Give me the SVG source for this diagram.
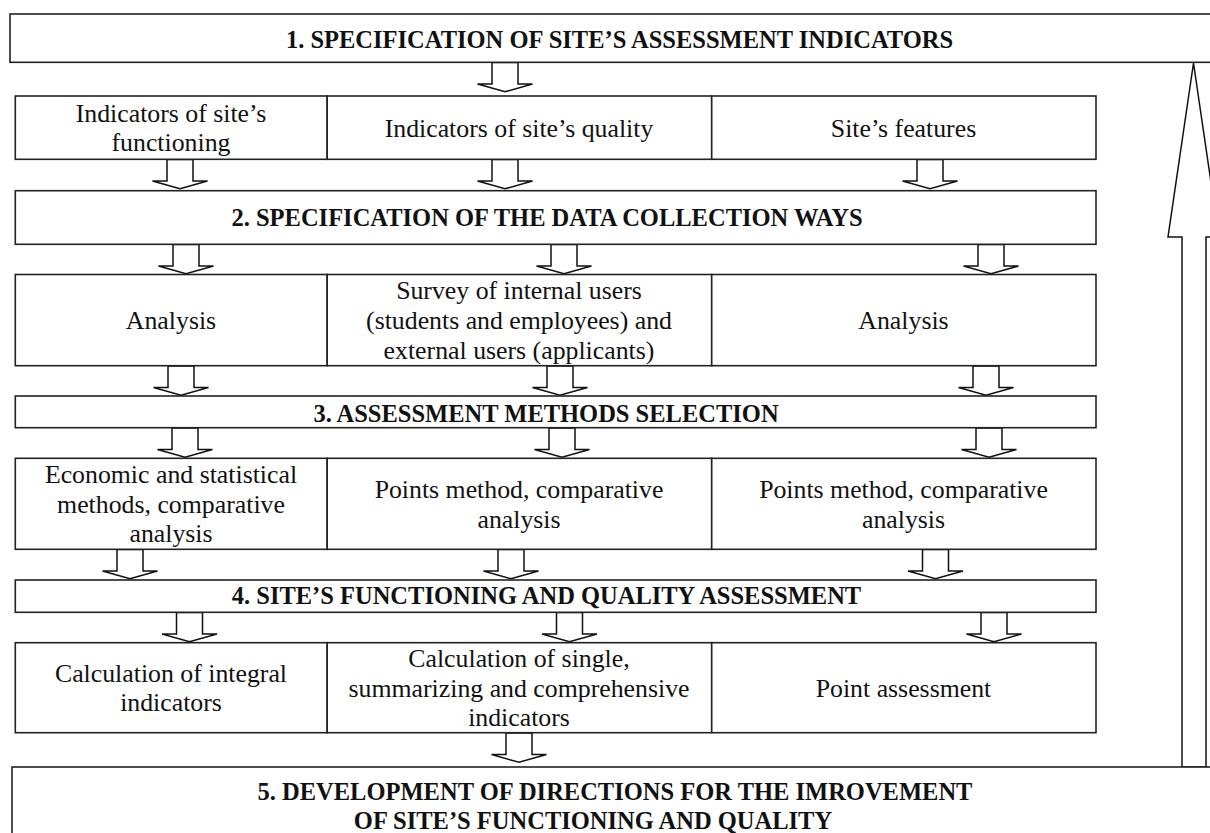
<svg xmlns="http://www.w3.org/2000/svg" xmlns:xlink="http://www.w3.org/1999/xlink" width="1210" height="833" viewBox="0 0 1210 833">
<style>
.box{fill:#fff;stroke:#222;stroke-width:1.6}
.t{font-family:"Liberation Serif","Times New Roman",serif;font-size:25.8px;fill:#111;text-anchor:middle}
.h{font-family:"Liberation Serif","Times New Roman",serif;font-size:24.5px;font-weight:bold;fill:#111;text-anchor:middle}
.arr{fill:#fff;stroke:#111;stroke-width:1.5;stroke-linejoin:miter}
</style>
<defs>
<polygon id="dn" class="arr" points="-13,0 13,0 13,21.5 27.5,21.5 0,29.3 -27.5,21.5 -13,21.5"/>
</defs>
<rect width="1210" height="833" fill="#fff"/>

<g id="connectors">
<use xlink:href="#dn" x="505" y="62.5"/>
<use xlink:href="#dn" x="180" y="159.5"/>
<use xlink:href="#dn" x="505" y="159.5"/>
<use xlink:href="#dn" x="930" y="159.5"/>
<use xlink:href="#dn" x="186" y="244.5"/>
<use xlink:href="#dn" x="564" y="244.5"/>
<use xlink:href="#dn" x="991" y="244.5"/>
<use xlink:href="#dn" x="181" y="366"/>
<use xlink:href="#dn" x="560" y="366"/>
<use xlink:href="#dn" x="986" y="366"/>
<use xlink:href="#dn" x="185" y="428"/>
<use xlink:href="#dn" x="562" y="428"/>
<use xlink:href="#dn" x="989" y="428"/>
<use xlink:href="#dn" x="130" y="549.5"/>
<use xlink:href="#dn" x="511" y="549.5"/>
<use xlink:href="#dn" x="935.5" y="549.5"/>
<use xlink:href="#dn" x="189.5" y="612.5"/>
<use xlink:href="#dn" x="569.5" y="612.5"/>
<use xlink:href="#dn" x="994" y="612.5"/>
<use xlink:href="#dn" x="519" y="733"/>
<polygon id="feedback" class="arr" points="1193.5,63 1219,237 1206,237 1206,767 1182,767 1182,237 1168,237"/>
</g>

<g id="step1"><rect class="box" x="10" y="14" width="1215" height="48.3"/>
<text class="h" x="619.5" y="48.3">1. SPECIFICATION OF SITE’S ASSESSMENT INDICATORS</text></g>

<g id="ind-functioning"><rect class="box" x="15.3" y="96" width="311.9" height="63.3"/>
<text class="t" x="171" y="121.7">Indicators of site’s</text><text class="t" x="171" y="151">functioning</text></g>
<g id="ind-quality"><rect class="box" x="327.2" y="96" width="384.5" height="63.3"/>
<text class="t" x="519" y="136.5">Indicators of site’s quality</text></g>
<g id="site-features"><rect class="box" x="711.7" y="96" width="384.3" height="63.3"/>
<text class="t" x="903.5" y="136.5">Site’s features</text></g>

<g id="step2"><rect class="box" x="15.3" y="190.7" width="1080.7" height="53.6"/>
<text class="h" x="547" y="226">2. SPECIFICATION OF THE DATA COLLECTION WAYS</text></g>

<g id="analysis1"><rect class="box" x="15.3" y="274.5" width="311.9" height="91.2"/>
<text class="t" x="171" y="329.3">Analysis</text></g>
<g id="survey"><rect class="box" x="327.2" y="274.5" width="384.5" height="91.2"/>
<text class="t" x="519" y="299.3">Survey of internal users</text>
<text class="t" x="519" y="329.3">(students and employees) and</text>
<text class="t" x="519" y="359.3">external users (applicants)</text></g>
<g id="analysis2"><rect class="box" x="711.7" y="274.5" width="384.3" height="91.2"/>
<text class="t" x="903.5" y="329.3">Analysis</text></g>

<g id="step3"><rect class="box" x="15.3" y="396" width="1080.7" height="31.7"/>
<text class="h" x="546" y="421.7">3. ASSESSMENT METHODS SELECTION</text></g>

<g id="econ"><rect class="box" x="15.3" y="458.3" width="311.9" height="91"/>
<text class="t" x="171" y="483">Economic and statistical</text>
<text class="t" x="171" y="512.5">methods, comparative</text>
<text class="t" x="171" y="541.5">analysis</text></g>
<g id="points1"><rect class="box" x="327.2" y="458.3" width="384.5" height="91"/>
<text class="t" x="519" y="497.7">Points method, comparative</text>
<text class="t" x="519" y="527.7">analysis</text></g>
<g id="points2"><rect class="box" x="711.7" y="458.3" width="384.3" height="91"/>
<text class="t" x="903.5" y="497.7">Points method, comparative</text>
<text class="t" x="903.5" y="527.7">analysis</text></g>

<g id="step4"><rect class="box" x="15.3" y="580" width="1080.7" height="32.3"/>
<text class="h" x="546.5" y="603.5">4. SITE’S FUNCTIONING AND QUALITY ASSESSMENT</text></g>

<g id="integral"><rect class="box" x="15.3" y="642.7" width="311.9" height="90"/>
<text class="t" x="171" y="681.7">Calculation of integral</text>
<text class="t" x="171" y="710.5">indicators</text></g>
<g id="single"><rect class="box" x="327.2" y="642.7" width="384.5" height="90"/>
<text class="t" x="519" y="666.7">Calculation of single,</text>
<text class="t" x="519" y="696.7">summarizing and comprehensive</text>
<text class="t" x="519" y="725.5">indicators</text></g>
<g id="point-assessment"><rect class="box" x="711.7" y="642.7" width="384.3" height="90"/>
<text class="t" x="903.5" y="696.7">Point assessment</text></g>

<g id="step5"><rect class="box" x="12" y="767" width="1215" height="90"/>
<text class="h" x="615" y="800">5. DEVELOPMENT OF DIRECTIONS FOR THE IMROVEMENT</text>
<text class="h" x="593" y="828.5">OF SITE’S FUNCTIONING AND QUALITY</text></g>
</svg>
